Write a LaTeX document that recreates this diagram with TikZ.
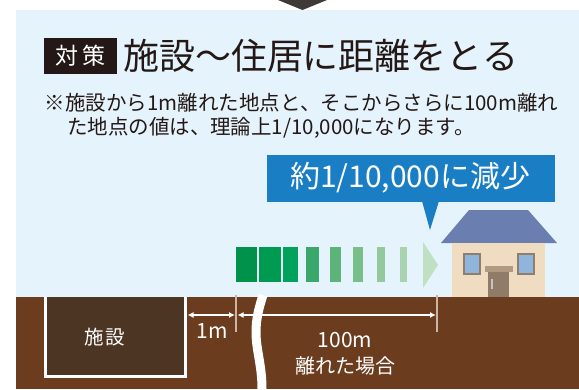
\documentclass[tikz,border=0pt]{standalone}
\usepackage{fontspec}
\setmainfont{Noto Sans CJK JP}
\usetikzlibrary{arrows.meta}
\definecolor{panel}{HTML}{E5F3FC}
\definecolor{ink}{HTML}{231815}
\definecolor{soil}{HTML}{6B3D1E}
\definecolor{plant}{HTML}{4D3524}
\definecolor{bubble}{HTML}{1A7EC4}
\definecolor{roof}{HTML}{6A7FB0}
\definecolor{wall}{HTML}{F0DCC0}
\definecolor{frame}{HTML}{8E7E6E}
\definecolor{glass}{HTML}{8FB5DC}
\definecolor{canopy}{HTML}{B09A80}
\definecolor{door}{HTML}{8F7B68}
\definecolor{handle}{HTML}{C8C4C0}
\definecolor{tickc}{HTML}{CDB5A3}
\definecolor{topmark}{HTML}{403A37}
\definecolor{g1}{HTML}{00924A}
\definecolor{g2}{HTML}{009A50}
\definecolor{g3}{HTML}{00A25C}
\definecolor{g4}{HTML}{3AA86A}
\definecolor{g5}{HTML}{5CB47A}
\definecolor{g6}{HTML}{78BE8A}
\definecolor{g7}{HTML}{93C99C}
\definecolor{g8}{HTML}{A8D3AE}
\definecolor{g9}{HTML}{C0E0C4}
\tikzset{
  fsz/.style={font=\fontsize{#1}{#1}\selectfont},
  plain/.style={inner sep=0pt, outer sep=0pt},
  dimline/.style={white, line width=1.3pt, {Latex[length=6pt,width=6pt]}-{Latex[length=6pt,width=6pt]}},
  dimtick/.style={tickc, line width=2pt},
}
\begin{document}
\begin{tikzpicture}[x=1pt,y=-1pt]
\useasboundingbox (0,0) rectangle (579,389);
\fill[white] (0,0) rectangle (579,389);
% sky panel and heading marker
\fill[panel] (16,10) rectangle (579,297);
\fill[topmark] (278,0) -- (327,0) -- (302.5,10) -- cycle;

% heading
\node[plain, fill=ink, text=white, minimum width=73pt, minimum height=36pt, fsz=23] (tag) at (80.5,56) {対\hspace{5pt}策};
\node[plain, anchor=west, text=ink, fsz=36] (title) at (123,56) {施設〜住居に距離をとる};
\node[plain, anchor=west, text=ink, fsz=20.5] (note1) at (45,103) {※施設から1m離れた地点と、そこからさらに100m離れ};
\node[plain, anchor=west, text=ink, fsz=20.5] (note2) at (67,128) {た地点の値は、理論上1/10,000になります。};

% callout
\fill[bubble] (267,155) rectangle (555,202);
\fill[bubble] (422,201) -- (439,201) -- (430,230) -- cycle;
\node[plain, text=white, fsz=30] (callout) at (410,178) {約1/10,000に減少};

% fading bars
\fill[g1] (236,247) rectangle (257,282);
\fill[g2] (259,247) rectangle (281,282);
\fill[g3] (283,247) rectangle (298,282);
\fill[g4] (306,247) rectangle (319,282);
\fill[g5] (330,247) rectangle (341,282);
\fill[g6] (353,247) rectangle (363,282);
\fill[g7] (377,247) rectangle (385,282);
\fill[g8] (400,247) rectangle (407,282);
\fill[g9] (423,242) -- (438,265) -- (423,288) -- cycle;

% house
\fill[roof] (469,210) -- (528,210) -- (557,243) -- (441,243) -- cycle;
\fill[wall] (452,243) rectangle (545,297);
\fill[frame] (463,253) rectangle (481,275);
\fill[glass] (465,255) rectangle (479,273);
\fill[frame] (517,253) rectangle (535,275);
\fill[glass] (519,255) rectangle (533,273);
\fill[canopy] (485,266) rectangle (513,272);
\fill[door] (488,272) rectangle (509,297);
\fill[handle] (491,279) rectangle (493,289);

% ground
\fill[soil] (16,297) rectangle (579,389);
\fill[plant] (46,297) rectangle (185,376);
\draw[white, line width=3.5pt] (45.5,297) -- (45.5,376.5) -- (185.5,376.5) -- (185.5,297);
\node[plain, text=white, fsz=19.5] (facility) at (105,337) {施\hspace{2pt}設};

% dimensions
\coordinate (t1top) at (236,295);
\coordinate (t1bot) at (236,332);
\coordinate (t2top) at (437,295);
\coordinate (t2bot) at (437,332);
\draw[dimtick] (t1top) -- (t1bot);
\draw[dimtick] (t2top) -- (t2bot);
\coordinate (d1a) at (187.5,315);
\coordinate (d1b) at (235,315);
\coordinate (d2a) at (237.5,315);
\coordinate (d2b) at (436,315);
\draw[dimline] (d1a) -- (d1b);
\draw[dimline] (d2a) -- (d2b);
\node[plain, text=white, fsz=21] (onem) at (212,331) {1m};
\node[plain, text=white, fsz=21] (hundredm) at (345,340) {100m};
\node[plain, text=white, fsz=20] (apart) at (345,366) {離れた場合};

% break mark
\draw[white, line width=9pt] (263,295) .. controls (259,308) and (256,318) .. (256,332) .. controls (256,350) and (262,365) .. (262,389);
\end{tikzpicture}
\end{document}
